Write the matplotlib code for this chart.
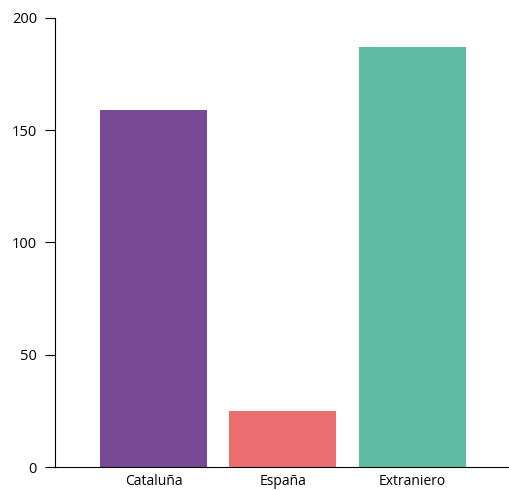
import matplotlib
matplotlib.use("Agg")
import matplotlib.pyplot as plt

categories = ["Cataluña", "España", "Extraniero"]
values = [159, 25, 187]
colors = ["#784a96", "#ec6e70", "#5fbca2"]

plt.rcParams['font.family'] = ['Open Sans', 'DejaVu Sans']

fig = plt.figure(figsize=(5.09, 4.90), dpi=100)
ax = fig.add_axes([55 / 509, 23 / 490, 453 / 509, 449 / 490])

x = range(len(categories))
ax.bar(x, values, width=0.826, color=colors)

ax.set_xlim(-0.76, 2.737)
ax.set_ylim(0, 200)
ax.set_yticks([0, 50, 100, 150, 200])
ax.set_xticks(list(x))
ax.set_xticklabels(categories)
ax.tick_params(axis="x", length=0, labelsize=10, pad=5)
ax.tick_params(axis="y", length=7, labelsize=10.5, pad=6)

ax.spines["top"].set_visible(False)
ax.spines["right"].set_visible(False)

fig.savefig("out.png", dpi=100)
